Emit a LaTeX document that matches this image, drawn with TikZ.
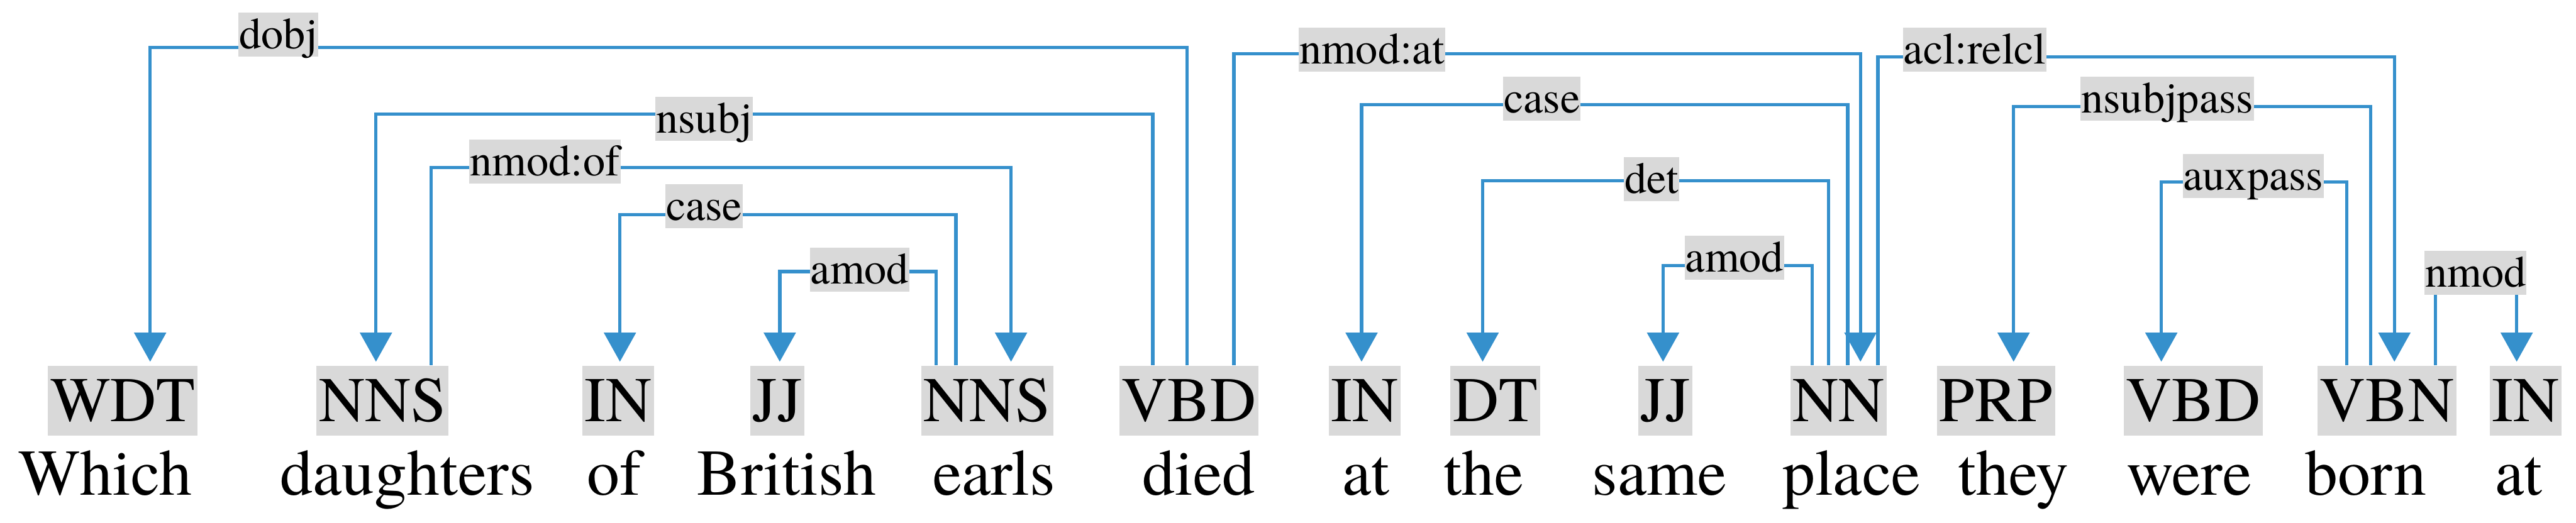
\documentclass[tikz,border=0pt]{standalone}
\usepackage{fontspec}
\setmainfont{TeX Gyre Termes}
\usepackage{tikz}
\usetikzlibrary{arrows.meta,positioning}
\definecolor{tagfill}{HTML}{D9D9D9}
\definecolor{arcblue}{HTML}{3590CC}

\begin{document}
\begin{tikzpicture}[
 node distance=2.25mm,
 tag/.style={fill=tagfill,inner xsep=0.4mm,minimum height=11.5mm,font=\rmfamily\fontsize{29.9}{34}\selectfont},
 word/.style={inner sep=0pt,text height=7.5mm,text depth=2.2mm,font=\rmfamily\fontsize{30.7}{36}\selectfont},
 rel/.style={fill=tagfill,inner xsep=0.1mm,inner ysep=0pt,text height=6mm,text depth=1.3mm,font=\rmfamily\fontsize{20.8}{24}\selectfont},
 arc/.style={draw=arcblue,line width=0.55mm,-{Triangle[width=5.2mm,length=4.8mm]},shorten >=0.6mm},
]
\useasboundingbox (0,0) rectangle (42.55,8.64);
\node[tag] (a) at (2.03,2.02) {WDT};
\node[tag] (b) at (6.32,2.02) {NNS};
\node[tag] (c) at (10.21,2.02) {IN};
\node[tag] (d) at (12.84,2.02) {JJ};
\node[tag] (e) at (16.31,2.02) {NNS};
\node[tag] (f) at (19.64,2.02) {VBD};
\node[tag] (g) at (22.54,2.02) {IN};
\node[tag] (h) at (24.70,2.02) {DT};
\node[tag] (i) at (27.51,2.02) {JJ};
\node[tag] (j) at (30.37,2.02) {NN};
\node[tag] (k) at (32.97,2.02) {PRP};
\node[tag] (l) at (36.23,2.02) {VBD};
\node[tag] (m) at (39.43,2.02) {VBN};
\node[tag] (n) at (41.72,2.02) {IN};
\node[word,below=of a,xshift=-2.9mm] (wa) {Which};
\node[word,below=of b,xshift=4.1mm] (wb) {daughters};
\node[word,below=of c,xshift=-0.6mm] (wc) {of};
\node[word,below=of d,xshift=1.6mm] (wd) {British};
\node[word,below=of e,xshift=1.1mm] (we) {earls};
\node[word,below=of f,xshift=1.6mm] (wf) {died};
\node[word,below=of g,xshift=0.2mm] (wg) {at};
\node[word,below=of h,xshift=-1.9mm] (wh) {the};
\node[word,below=of i,xshift=-1.0mm] (wi) {same};
\node[word,below=of j,xshift=2.1mm] (wj) {place};
\node[word,below=of k,xshift=2.9mm] (wk) {they};
\node[word,below=of l,xshift=-0.7mm] (wl) {were};
\node[word,below=of m,xshift=-3.5mm] (wm) {born};
\node[word,below=of n,xshift=-1.2mm] (wn) {at};
\draw[arc] ([xshift=-0.3mm]f.north) -- ++(0,5.25) -| ([xshift=4.5mm]a.north);
\draw[arc] ([xshift=-6.0mm]f.north) -- ++(0,4.15) -| ([xshift=-1.1mm]b.north);
\draw[arc] ([xshift=8.0mm]b.north) -- ++(0,3.27) -| ([xshift=3.9mm]e.north);
\draw[arc] ([xshift=-5.2mm]e.north) -- ++(0,2.49) -| ([xshift=0.3mm]c.north);
\draw[arc] ([xshift=-8.5mm]e.north) -- ++(0,1.55) -| ([xshift=0.4mm]d.north);
\draw[arc] ([xshift=7.4mm]f.north) -- ++(0,5.15) -| ([xshift=3.6mm]j.north);
\draw[arc] ([xshift=1.5mm]j.north) -- ++(0,4.31) -| ([xshift=-0.5mm]g.north);
\draw[arc] ([xshift=-1.7mm]j.north) -- ++(0,3.05) -| ([xshift=-2.1mm]h.north);
\draw[arc] ([xshift=-4.4mm]j.north) -- ++(0,1.65) -| ([xshift=-0.4mm]i.north);
\draw[arc] ([xshift=6.5mm]j.north) -- ++(0,5.10) -| ([xshift=1.2mm]m.north);
\draw[arc] ([xshift=-2.7mm]m.north) -- ++(0,4.28) -| ([xshift=2.9mm]k.north);
\draw[arc] ([xshift=-6.7mm]m.north) -- ++(0,3.03) -| ([xshift=-5.3mm]l.north);
\draw[arc] ([xshift=8.0mm]m.north) -- ++(0,1.54) -| ([xshift=-1.5mm]n.north);
\node[rel] (r1) at (4.60,8.07) {dobj};
\node[rel] (r2) at (11.63,6.68) {nsubj};
\node[rel] (r3) at (9.00,5.97) {nmod:of};
\node[rel] (r4) at (11.63,5.23) {case};
\node[rel] (r5) at (14.20,4.18) {amod};
\node[rel] (r6) at (22.66,7.82) {nmod:at};
\node[rel] (r7) at (25.47,7.01) {case};
\node[rel] (r8) at (27.28,5.68) {det};
\node[rel] (r9) at (28.65,4.38) {amod};
\node[rel] (r10) at (32.62,7.82) {acl:relcl};
\node[rel] (r11) at (35.80,7.01) {nsubjpass};
\node[rel] (r12) at (37.22,5.73) {auxpass};
\node[rel] (r13) at (40.89,4.13) {nmod};
\end{tikzpicture}
\end{document}
